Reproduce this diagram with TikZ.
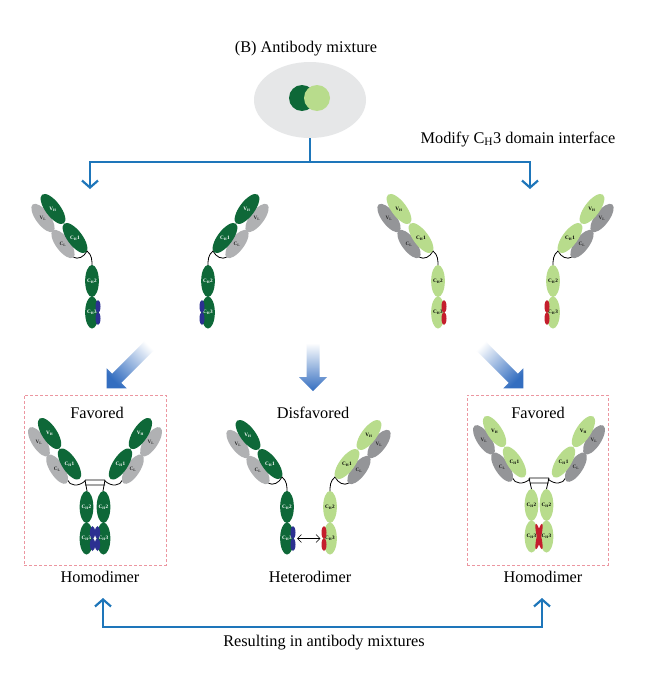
\documentclass[tikz,border=0pt]{standalone}
\usepackage{fontspec}
\setmainfont{Liberation Serif}
\usetikzlibrary{arrows.meta,shapes.geometric}
\definecolor{dgreen}{RGB}{14,104,56}
\definecolor{lgreen}{RGB}{184,220,140}
\definecolor{grayA}{RGB}{176,177,179}
\definecolor{grayB}{RGB}{148,149,152}
\definecolor{bgray}{RGB}{230,231,232}
\definecolor{lineblue}{RGB}{30,118,186}
\definecolor{navyb}{RGB}{44,48,145}
\definecolor{kred}{RGB}{196,30,45}
\definecolor{boxpink}{RGB}{236,150,160}
\definecolor{arrowblue}{RGB}{52,110,192}
\newcommand{\abTxt}{\fontsize{16.3}{19}\selectfont}
\newcommand{\abDom}{\fontsize{5.2}{6}\selectfont\bfseries}
\tikzset{
  lbl/.style={font=\abTxt, inner sep=0pt, anchor=base},
  dlab/.style={font=\abDom, inner sep=0pt},
  fcdom/.style={ellipse, minimum width=13pt, minimum height=32pt, inner sep=0pt, font=\abDom},
  bline/.style={draw=lineblue, line width=2.2pt},
  hingeline/.style={draw=black, line width=0.8pt},
  pinkbox/.style={draw=boxpink, dash pattern=on 3pt off 2pt, line width=0.8pt, inner sep=0pt},
}
% arm: prefix, x, y (CH1 centre), mirror, rotation, heavy colour, heavy text colour, light-chain grey
\newcommand{\abArm}[8]{%
\begin{scope}[shift={(#2,#3)}, xscale=#4, rotate=#5]
  \fill[#8, rotate around={37:(-32,-20)}] (-32,-20) ellipse (7 and 17);
  \fill[#8, rotate around={37:(-12,6)}] (-12,6) ellipse (7 and 17);
  \fill[#6, rotate around={37:(-22,-29)}] (-22,-29) ellipse (7.5 and 18);
  \fill[#6, rotate around={37:(0,0)}] (0,0) ellipse (7.5 and 18);
  \node[dlab, text=black!85] (#1VL) at (-32,-20) {V\textsubscript{L}};
  \node[dlab, text=black!85] (#1CL) at (-12,6) {C\textsubscript{L}};
  \node[dlab, text=#7] (#1VH) at (-22,-29) {V\textsubscript{H}};
  \node[dlab, text=#7] (#1CHa) at (0,0) {C\textsubscript{H}1};
\end{scope}}
% half antibody: prefix, x, y (CH2 centre), mirror, colour, text colour, grey, bump colour
\newcommand{\abHalf}[8]{%
\begin{scope}[shift={(#2,#3)}, xscale=#4]
  \draw[hingeline] (-19,-24) .. controls (-14,-21) and (-8,-24) .. (-5,-30) .. controls (0,-26) and (0,-21) .. (0,-15);
  \abArm{#1}{-17}{-43}{1}{0}{#5}{#6}{#7}
  \node[fcdom, fill=#5, text=#6] (#1CHb) at (0,0) {C\textsubscript{H}2};
  \node[fcdom, fill=#5, text=#6] (#1CHc) at (0,31.5) {C\textsubscript{H}3};
  \fill[#8] (6,25.5) ellipse (2.5 and 6.5);
  \fill[#8] (6,37.5) ellipse (2.5 and 6.5);
\end{scope}}
% block arrow: x, y (tail), angle, length
\newcommand{\abBlock}[4]{%
\shade[top color=white, bottom color=arrowblue, shading angle=#3, rotate around={#3:(#1,#2)}]
  ({#1-6.5},#2) -- ({#1+6.5},#2) -- ({#1+6.5},{#2+#4-14}) -- ({#1+14},{#2+#4-14}) -- (#1,{#2+#4})
  -- ({#1-14},{#2+#4-14}) -- ({#1-6.5},{#2+#4-14}) -- cycle;}
\begin{document}
\begin{tikzpicture}[x=1pt, y=-1pt]
\fill[white] (0,0) rectangle (648,688);
\useasboundingbox (0,0) rectangle (648,688);

% title and mixture
\node[lbl] (title) at (306,52) {(B) Antibody mixture};
\node[ellipse, fill=bgray, minimum width=112pt, minimum height=76pt, inner sep=0pt] (mix) at (310,100) {};
\node[circle, fill=dgreen, minimum size=26pt, inner sep=0pt] (cdark) at (302,98) {};
\node[circle, fill=lgreen, minimum size=26pt, inner sep=0pt] (clight) at (317,98) {};
\node[lbl] (modify) at (518,143) {Modify C\textsubscript{H}3 domain interface};

% top connectors
\coordinate (tJ) at (310,162);
\coordinate (tL) at (90,189);
\coordinate (tR) at (530,189);
\draw[bline] (mix.south) -- (tJ);
\draw[bline, -{Straight Barb[length=7pt,width=16pt]}] (tJ) -| (tL);
\draw[bline, -{Straight Barb[length=7pt,width=16pt]}] (tJ) -| (tR);

% top half antibodies
\abHalf{tA}{92}{281}{1}{dgreen}{white}{grayA}{navyb}
\abHalf{tB}{208}{281}{-1}{dgreen}{white}{grayA}{navyb}
\abHalf{tC}{438}{281}{1}{lgreen}{black}{grayB}{kred}
\abHalf{tD}{553}{281}{-1}{lgreen}{black}{grayB}{kred}

% block arrows
\abBlock{152}{343}{-45}{64}
\abBlock{313}{343}{0}{48}
\abBlock{478}{343}{45}{64}

% boxes and labels
\node[pinkbox, minimum width=142pt, minimum height=170pt] (boxL) at (95,480) {};
\node[pinkbox, minimum width=141pt, minimum height=170pt] (boxR) at (537.5,480) {};
\node[lbl] (favL) at (97,418) {Favored};
\node[lbl] (disf) at (313,418) {Disfavored};
\node[lbl] (favR) at (538,418) {Favored};

% left homodimer
\begin{scope}[shift={(69.5,464)}]
  \draw[hingeline] (-2,16) .. controls (0,22) and (9,23) .. (15.5,17);
\end{scope}
\begin{scope}[shift={(120.5,464)}, xscale=-1]
  \draw[hingeline] (-2,16) .. controls (0,22) and (9,23) .. (15.5,17);
\end{scope}
\draw[hingeline] (85,480) -- (105,480) (85,485) -- (105,485)
  (85,480) -- (87,491) (105,480) -- (103,491);
\abArm{lA}{69.5}{464}{1}{-4}{dgreen}{white}{grayA}
\abArm{lB}{120.5}{464}{-1}{-4}{dgreen}{white}{grayA}
\node[fcdom, fill=dgreen, text=white] (lACHb) at (86.5,507) {C\textsubscript{H}2};
\node[fcdom, fill=dgreen, text=white] (lBCHb) at (103.5,507) {C\textsubscript{H}2};
\node[fcdom, fill=dgreen, text=white] (lACHc) at (86.5,538.5) {C\textsubscript{H}3};
\node[fcdom, fill=dgreen, text=white] (lBCHc) at (103.5,538.5) {C\textsubscript{H}3};
\fill[navyb] (92.5,532.5) ellipse (2.6 and 6.5) (92.5,544.5) ellipse (2.6 and 6.5)
  (97.5,532.5) ellipse (2.6 and 6.5) (97.5,544.5) ellipse (2.6 and 6.5);
\fill[white] (95,538.5) circle (1.2);

% heterodimer
\abHalf{hL}{287}{507}{1}{dgreen}{white}{grayA}{navyb}
\abHalf{hR}{330}{507}{-1}{lgreen}{black}{grayB}{kred}
\draw[line width=0.6pt, {Straight Barb[length=4pt,width=8pt]}-{Straight Barb[length=4pt,width=8pt]},
  shorten <=3pt, shorten >=2.5pt] (hLCHc.east) -- (hRCHc.west);

% right homodimer
\begin{scope}[shift={(514.5,462)}]
  \draw[hingeline] (-2,16) .. controls (0,22) and (9,23) .. (15.5,17);
\end{scope}
\begin{scope}[shift={(563.5,462)}, xscale=-1]
  \draw[hingeline] (-2,16) .. controls (0,22) and (9,23) .. (15.5,17);
\end{scope}
\draw[hingeline] (529,478) -- (549,478) (529.5,483) -- (548.5,483)
  (529,478) -- (531.5,489) (549,478) -- (546.5,489);
\abArm{rA}{514.5}{462}{1}{-4}{lgreen}{black}{grayB}
\abArm{rB}{563.5}{462}{-1}{-4}{lgreen}{black}{grayB}
\node[fcdom, fill=lgreen, text=black] (rACHb) at (531.5,505) {C\textsubscript{H}2};
\node[fcdom, fill=lgreen, text=black] (rBCHb) at (546.5,505) {C\textsubscript{H}2};
\node[fcdom, fill=lgreen, text=black] (rACHc) at (531.5,536.5) {C\textsubscript{H}3};
\node[fcdom, fill=lgreen, text=black] (rBCHc) at (546.5,536.5) {C\textsubscript{H}3};
\fill[kred, rotate around={13:(539,536.5)}] (539,536.5) ellipse (2.2 and 13);
\fill[kred, rotate around={-13:(539,536.5)}] (539,536.5) ellipse (2.2 and 13);

% bottom labels and connector
\node[lbl] (homL) at (100,582) {Homodimer};
\node[lbl] (het) at (310,582) {Heterodimer};
\node[lbl] (homR) at (543,582) {Homodimer};
\coordinate (bL) at (103,598);
\coordinate (bR) at (542,598);
\coordinate (bLc) at (103,627);
\draw[bline, {Straight Barb[length=7pt,width=16pt]}-{Straight Barb[length=7pt,width=16pt]}] (bL) -- (bLc) -| (bR);
\node[lbl] (result) at (324,646) {Resulting in antibody mixtures};
\end{tikzpicture}
\end{document}
